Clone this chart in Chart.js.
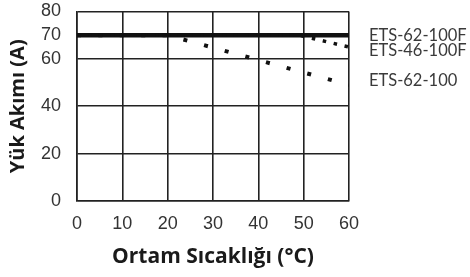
<!DOCTYPE html>
<html>
<head>
<meta charset="utf-8">
<script src="https://cdn.jsdelivr.net/npm/chart.js@4/dist/chart.umd.min.js"></script>
<style>
  html, body { margin: 0; padding: 0; background: #fff; }
  #wrap { width: 470px; height: 277px; position: relative; }
</style>
</head>
<body>
<div id="wrap"><canvas id="myChart" width="470" height="277"></canvas></div>
<script>
// data
var seriesNames = ['ETS-62-100F', 'ETS-46-100F', 'ETS-62-100'];
var temp62F = [0, 60];
var load62F = [70, 70];
var temp46F = [0, 49, 60];
var load46F = [70, 70, 65];
var temp62 = [0, 20, 60];
var load62 = [70, 70, 49];
var yTicks = [0, 20, 40, 60, 70, 80];
var xTicks = [0, 10, 20, 30, 40, 50, 60];

function pts(xs, ys) {
	var out = [];
	for (var i = 0; i < xs.length; i++) out.push({x: xs[i], y: ys[i]});
	return out;
}

// names written at the right of the plot
var sideLabels = {
	id: 'sideLabels',
	afterDraw: function (chart) {
		var ctx = chart.ctx;
		var ys = chart.scales.y;
		var at = [70, 63.3, 51];
		ctx.save();
		ctx.fillStyle = '#3a3a3a';
		ctx.font = '16.5px Lato';
		ctx.textBaseline = 'middle';
		for (var i = 0; i < seriesNames.length; i++) {
			ctx.fillText(seriesNames[i], chart.chartArea.right + 20, ys.getPixelForValue(at[i]));
		}
		ctx.restore();
	}
};

var ctx = document.getElementById('myChart');
var myChart = new Chart(ctx, {
	type: 'line',
	data: {
		datasets: [{
			label: seriesNames[0],
			data: pts(temp62F, load62F),
			borderColor: '#111',
			borderWidth: 4.5,
			pointRadius: 0,
			order: 3
		}, {
			label: seriesNames[1],
			data: pts(temp46F, load46F),
			borderColor: '#111',
			borderWidth: 3.5,
			borderDash: [3.5, 7.7],
			pointRadius: 0,
			order: 2
		}, {
			label: seriesNames[2],
			data: pts(temp62, load62),
			borderColor: '#111',
			borderWidth: 4,
			borderDash: [4, 17.4],
			pointRadius: 0,
			order: 1
		}]
	},
	options: {
		responsive: false,
		animation: false,
		devicePixelRatio: 1,
		layout: { padding: { left: 0, right: 121, top: 0, bottom: 0 } },
		plugins: { legend: { display: false }, tooltip: { enabled: false } },
		scales: {
			x: {
				type: 'linear',
				min: 0, max: 60,
				afterBuildTicks: function (s) { s.ticks = xTicks.map(function (v) { return {value: v}; }); },
				afterFit: function (s) { s.height = 76; },
				grid: { color: '#222', lineWidth: 1.6, drawTicks: false },
				border: { color: '#222', width: 1.6 },
				ticks: { color: '#333', font: { family: 'Liberation Sans', size: 18 }, padding: 12, maxRotation: 0 },
				title: { display: true, text: 'Ortam Sıcaklığı (°C)', color: '#1a1a1a', font: { family: 'Open Sans', size: 21, weight: 'bold' }, padding: { top: 6, bottom: 7 } }
			},
			y: {
				min: 0, max: 80,
				afterBuildTicks: function (s) { s.ticks = yTicks.map(function (v) { return {value: v}; }); },
				afterFit: function (s) {
					s.width = 77;
					// the tick padding is only wanted sideways
					s.paddingTop = 11.5;
					s.paddingBottom = 11;
				},
				grid: { color: '#222', lineWidth: 1.6, drawTicks: false },
				border: { color: '#222', width: 1.6 },
				ticks: { color: '#333', font: { family: 'Liberation Sans', size: 18 }, padding: 16 },
				title: { display: true, text: 'Yük Akımı (A)', color: '#1a1a1a', font: { family: 'Open Sans', size: 20, weight: 'bold' }, padding: { top: 6, bottom: 0 } }
			}
		}
	},
	plugins: [sideLabels]
});
</script>
</body>
</html>
